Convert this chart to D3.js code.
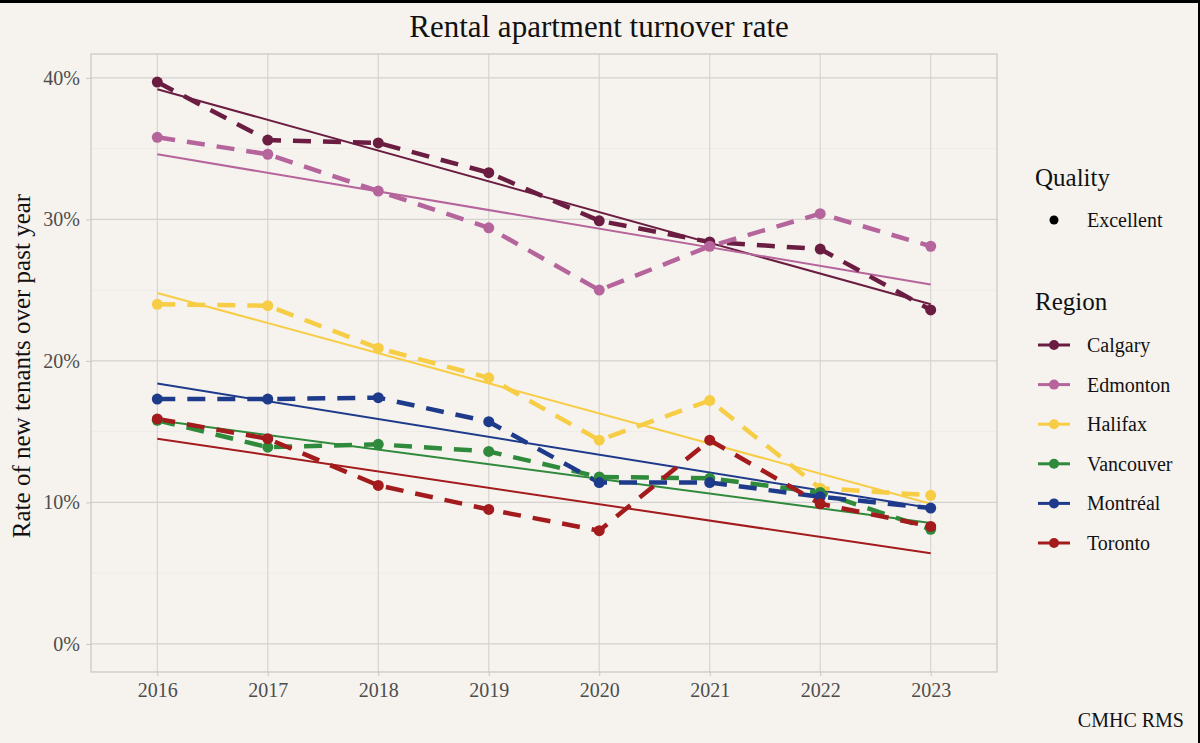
<!DOCTYPE html>
<html>
<head>
<meta charset="utf-8">
<script src="https://cdn.jsdelivr.net/npm/d3@7"></script>
<style>
  body { margin: 0; background: #f6f3ef; }
  svg { display: block; font-family: "Liberation Serif", "DejaVu Serif", serif; }
</style>
</head>
<body>
<svg id="chart" width="1200" height="743"></svg>
<script>
const years = ["2016", "2017", "2018", "2019", "2020", "2021", "2022", "2023"];
const regions = ["Calgary", "Edmonton", "Halifax", "Vancouver", "Montréal", "Toronto"];
const regionColors = ["#6b1d41", "#b5659b", "#f7cd46", "#2f8a3b", "#1e3a8a", "#a31b1c"];

// turnover rate (%) per region, 2016..2023
const calgary   = [39.7, 35.6, 35.4, 33.3, 29.9, 28.4, 27.9, 23.6];
const edmonton  = [35.8, 34.6, 32.0, 29.4, 25.0, 28.1, 30.4, 28.1];
const halifax   = [24.0, 23.9, 20.9, 18.8, 14.4, 17.2, 11.0, 10.5];
const vancouver = [15.8, 13.9, 14.1, 13.6, 11.8, 11.7, 10.7, 8.1];
const montreal  = [17.3, 17.3, 17.4, 15.7, 11.4, 11.4, 10.4, 9.6];
const toronto   = [15.9, 14.5, 11.2, 9.5, 8.0, 14.4, 9.9, 8.3];

// trend line ends (%) at 2016 and 2023
const trendStart = [39.2, 34.6, 24.8, 15.8, 18.4, 14.5];
const trendEnd   = [24.0, 25.4, 9.9, 8.55, 9.6, 6.4];

const yTicks = [0, 10, 20, 30, 40];
const yMinor = [5, 15, 25, 35];

const series = [calgary, edmonton, halifax, vancouver, montreal, toronto].map((vals, i) => ({
    name: regions[i],
    color: regionColors[i],
    values: vals.map((v, j) => ({ year: years[j], value: v })),
    trend: [
        { year: years[0], value: trendStart[i] },
        { year: years[years.length - 1], value: trendEnd[i] }
    ]
}));

const svg = d3.select("#chart");
const width = 1200, height = 743;

const panel = { left: 91, right: 997, top: 54, bottom: 672 };

const x = d3.scalePoint()
    .domain(years)
    .range([panel.left, panel.right])
    .padding(0.6);

const yMax = d3.max(series, s => d3.max(s.values, d => d.value));
const yPad = yMax * 0.05;
const y = d3.scaleLinear()
    .domain([0 - yPad, yMax + yPad])
    .range([panel.bottom, panel.top]);

// background
svg.append("rect").attr("width", width).attr("height", height).attr("fill", "#f6f3ef");

// grid
const grid = svg.append("g");
grid.selectAll(".minor").data(yMinor).enter().append("line")
    .attr("x1", panel.left).attr("x2", panel.right)
    .attr("y1", d => y(d)).attr("y2", d => y(d))
    .attr("stroke", "#ebe8e4").attr("stroke-width", 0.8);
grid.selectAll(".major").data(yTicks).enter().append("line")
    .attr("x1", panel.left).attr("x2", panel.right)
    .attr("y1", d => y(d)).attr("y2", d => y(d))
    .attr("stroke", "#d4d1cf").attr("stroke-width", 1.1);
grid.selectAll(".vx").data(years).enter().append("line")
    .attr("x1", d => x(d)).attr("x2", d => x(d))
    .attr("y1", panel.top).attr("y2", panel.bottom)
    .attr("stroke", "#d4d1cf").attr("stroke-width", 1.1);

svg.append("rect")
    .attr("x", panel.left).attr("y", panel.top)
    .attr("width", panel.right - panel.left).attr("height", panel.bottom - panel.top)
    .attr("fill", "none").attr("stroke", "#c8c5c3").attr("stroke-width", 1.2);

// axes
const xAxis = svg.append("g")
    .attr("transform", `translate(0,${panel.bottom})`)
    .call(d3.axisBottom(x).tickSize(4).tickPadding(7));
const yAxis = svg.append("g")
    .attr("transform", `translate(${panel.left},0)`)
    .call(d3.axisLeft(y).tickValues(yTicks).tickFormat(d => d + "%").tickSize(5).tickPadding(6));
[xAxis, yAxis].forEach(a => {
    a.select(".domain").remove();
    a.selectAll(".tick line").attr("stroke", "#c8c5c3");
    a.selectAll(".tick text")
        .attr("fill", "#4d4d4d")
        .style("font-size", "20px")
        .style("font-family", "Liberation Serif, serif");
});

const line = d3.line().x(d => x(d.year)).y(d => y(d.value));

// trend lines
svg.append("g").selectAll("path").data(series).enter().append("path")
    .attr("d", d => line(d.trend))
    .attr("fill", "none").attr("stroke", d => d.color).attr("stroke-width", 2);

// dashed series lines
svg.append("g").selectAll("path").data(series).enter().append("path")
    .attr("d", d => line(d.values))
    .attr("fill", "none").attr("stroke", d => d.color)
    .attr("stroke-width", 4.5).attr("stroke-dasharray", "18,12");

// points
svg.append("g").selectAll("g").data(series).enter().append("g")
    .attr("fill", d => d.color)
    .selectAll("circle").data(d => d.values).enter().append("circle")
    .attr("cx", d => x(d.year)).attr("cy", d => y(d.value)).attr("r", 5.5);

// title
svg.append("text")
    .attr("x", 599).attr("y", 37)
    .attr("text-anchor", "middle").attr("fill", "#111")
    .style("font-size", "31px")
    .text("Rental apartment turnover rate");

// y title
svg.append("text")
    .attr("transform", `translate(30,${(panel.top + panel.bottom) / 2 + 3}) rotate(-90)`)
    .attr("text-anchor", "middle").attr("fill", "#111")
    .style("font-size", "25px")
    .text("Rate of new tenants over past year");

// caption
svg.append("text")
    .attr("x", 1184).attr("y", 727)
    .attr("text-anchor", "end").attr("fill", "#111")
    .style("font-size", "20px")
    .text("CMHC RMS");

// legend
const legend = svg.append("g");
legend.append("text").attr("x", 1035).attr("y", 186)
    .attr("fill", "#111").style("font-size", "25px").text("Quality");
legend.append("circle").attr("cx", 1054).attr("cy", 220).attr("r", 4.5).attr("fill", "#000");
legend.append("text").attr("x", 1087).attr("y", 227)
    .attr("fill", "#111").style("font-size", "20px").text("Excellent");

legend.append("text").attr("x", 1035).attr("y", 310)
    .attr("fill", "#111").style("font-size", "25px").text("Region");

const item = legend.selectAll(".item").data(series).enter().append("g")
    .attr("transform", (d, i) => `translate(0,${345 + i * 39.6})`);
item.append("line").attr("x1", 1038).attr("x2", 1070)
    .attr("stroke", d => d.color).attr("stroke-width", 3);
item.append("circle").attr("cx", 1054).attr("r", 5).attr("fill", d => d.color);
item.append("text").attr("x", 1087).attr("y", 7)
    .attr("fill", "#111").style("font-size", "20px").text(d => d.name);

// frame edges seen on the screenshot
svg.append("rect").attr("x", 0).attr("y", 0).attr("width", width).attr("height", 3).attr("fill", "#000");
svg.append("rect").attr("x", width - 2).attr("y", 0).attr("width", 2).attr("height", height).attr("fill", "#000");
</script>
</body>
</html>
